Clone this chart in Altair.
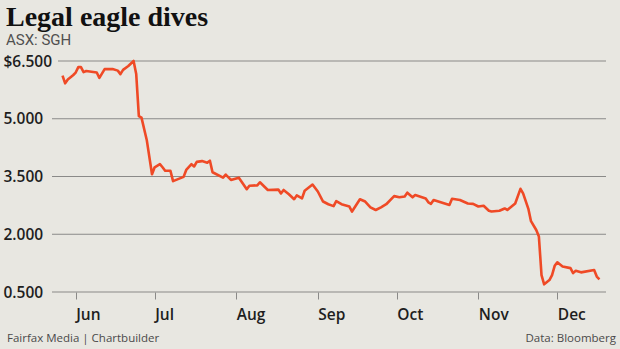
import altair as alt
import pandas as pd

# ---- data (SGH share price) ----
dates = [
    "2015-05-27", "2015-05-28", "2015-05-29", "2015-05-31", "2015-06-01", "2015-06-02",
    "2015-06-03", "2015-06-04", "2015-06-05", "2015-06-09", "2015-06-10", "2015-06-12",
    "2015-06-15", "2015-06-17", "2015-06-18", "2015-06-19", "2015-06-21", "2015-06-23",
    "2015-06-24", "2015-06-25", "2015-06-26", "2015-06-28", "2015-06-30",
    "2015-07-01", "2015-07-03", "2015-07-04", "2015-07-05", "2015-07-07", "2015-07-08",
    "2015-07-12", "2015-07-13", "2015-07-15", "2015-07-16", "2015-07-17", "2015-07-19",
    "2015-07-21", "2015-07-22", "2015-07-23", "2015-07-27", "2015-07-28", "2015-07-30",
    "2015-08-02", "2015-08-05", "2015-08-06", "2015-08-09", "2015-08-10", "2015-08-13",
    "2015-08-17", "2015-08-18", "2015-08-19", "2015-08-21", "2015-08-23", "2015-08-24",
    "2015-08-26", "2015-08-27", "2015-08-30",
    "2015-09-01", "2015-09-03", "2015-09-05", "2015-09-07", "2015-09-08", "2015-09-10",
    "2015-09-13", "2015-09-14", "2015-09-17", "2015-09-19", "2015-09-21", "2015-09-23",
    "2015-09-25", "2015-09-27", "2015-09-30",
    "2015-10-02", "2015-10-04", "2015-10-05", "2015-10-07", "2015-10-08", "2015-10-12",
    "2015-10-13", "2015-10-14", "2015-10-15", "2015-10-21", "2015-10-22", "2015-10-25",
    "2015-10-28", "2015-10-30",
    "2015-11-01", "2015-11-03", "2015-11-05", "2015-11-06", "2015-11-09", "2015-11-11",
    "2015-11-12", "2015-11-15", "2015-11-17", "2015-11-18", "2015-11-20", "2015-11-21",
    "2015-11-23", "2015-11-24", "2015-11-25", "2015-11-26", "2015-11-28", "2015-11-29",
    "2015-11-30",
    "2015-12-01", "2015-12-03", "2015-12-06", "2015-12-07", "2015-12-08", "2015-12-10",
    "2015-12-15", "2015-12-16", "2015-12-17",
]
prices = [
    6.12, 5.92, 6.02, 6.13, 6.20, 6.34,
    6.34, 6.21, 6.24, 6.20, 6.06, 6.29,
    6.29, 6.25, 6.16, 6.27, 6.37, 6.50,
    6.16, 5.07, 5.03, 4.45, 3.56,
    3.74, 3.82, 3.74, 3.65, 3.65, 3.38,
    3.49, 3.67, 3.82, 3.76, 3.88, 3.90,
    3.86, 3.91, 3.61, 3.47, 3.55, 3.41,
    3.47, 3.17, 3.26, 3.27, 3.35, 3.15,
    3.16, 3.06, 3.15, 3.04, 2.91, 3.01,
    2.93, 3.13, 3.29,
    3.11, 2.85, 2.78, 2.73, 2.86, 2.78,
    2.72, 2.59, 2.91, 2.85, 2.70, 2.63,
    2.70, 2.78, 2.99,
    2.96, 2.98, 3.08, 2.96, 3.02, 2.93,
    2.83, 2.79, 2.89, 2.76, 2.92, 2.89,
    2.80, 2.79,
    2.72, 2.74, 2.61, 2.59, 2.61, 2.67,
    2.63, 2.80, 3.18, 3.06, 2.66, 2.34,
    2.11, 1.94, 0.94, 0.70, 0.81, 0.94,
    1.18,
    1.27, 1.16, 1.12, 0.99, 1.05, 1.01,
    1.07, 0.90, 0.83,
]
y_ticks = [0.5, 2.0, 3.5, 5.0, 6.5]
month_starts = [6, 7, 8, 9, 10, 11, 12]

title_text = "Legal eagle dives"
subtitle_text = "ASX: SGH"
source_left = "Fairfax Media | Chartbuilder"
source_right = "Data: Bloomberg"

# ---- styling ----
BG = "#e8e7e1"
LINE = "#ef4a26"
GRID = "#8a8a88"
TEXT = "#1e1e1e"
W, H = 554, 231

df = pd.DataFrame({"date": dates, "price": prices})
grid_df = pd.DataFrame({"v": y_ticks})

x_scale = alt.Scale(
    type="utc",
    domain=[alt.DateTime(year=2015, month=5, date=23, utc=True),
            alt.DateTime(year=2015, month=12, date=19, hours=12, utc=True)],
)
y_scale = alt.Scale(domain=[0.5, 6.5], nice=False, zero=False)

x_axis = alt.Axis(
    values=[alt.DateTime(year=2015, month=m, date=1, utc=True) for m in month_starts],
    format="%b",
    title=None,
    grid=False,
    domain=False,
    ticks=True,
    tickSize=7,
    tickColor=GRID,
    tickWidth=1,
    labelAlign="left",
    labelPadding=8,
    labelFont="Open Sans",
    labelFontSize=15.5,
    labelFontWeight=600,
    labelColor=TEXT,
)
y_axis = alt.Axis(
    values=y_ticks,
    labelExpr="datum.value == 6.5 ? '$6.500' : format(datum.value, '.3f')",
    title=None,
    grid=False,
    domain=False,
    ticks=False,
    labelAlign="left",
    labelBaseline="middle",
    labelPadding=49,
    labelFont="Open Sans",
    labelFontSize=15.5,
    labelFontWeight=600,
    labelColor=TEXT,
)

rules_low = alt.Chart(grid_df).transform_filter("datum.v < 6").mark_rule(
    color=GRID, strokeWidth=1.2
).encode(
    y=alt.Y("v:Q", scale=y_scale, axis=y_axis),
    x=alt.value(0),
    x2=alt.value(W),
)
rules_top = alt.Chart(grid_df).transform_filter("datum.v > 6").mark_rule(
    color=GRID, strokeWidth=1.2
).encode(
    y=alt.Y("v:Q", scale=y_scale, axis=y_axis),
    x=alt.value(6),
    x2=alt.value(W),
)

line = alt.Chart(df).mark_line(color=LINE, strokeWidth=2.6, strokeJoin="round").encode(
    x=alt.X("date:T", scale=x_scale, axis=x_axis),
    y=alt.Y("price:Q", scale=y_scale, axis=y_axis),
)

foot_left = alt.Chart(pd.DataFrame({"t": [source_left]})).mark_text(
    align="left", baseline="alphabetic", font="Open Sans", fontSize=11.5, color="#4a4a4a"
).encode(text="t:N", x=alt.value(-45), y=alt.value(281))

foot_right = alt.Chart(pd.DataFrame({"t": [source_right]})).mark_text(
    align="right", baseline="alphabetic", font="Open Sans", fontSize=11.5, color="#4a4a4a"
).encode(text="t:N", x=alt.value(564), y=alt.value(281))

chart = alt.layer(rules_low, rules_top, line, foot_left, foot_right).properties(
    width=W,
    height=H,
    autosize=alt.AutoSizeParams(type="none"),
    padding={"left": 52, "top": 61, "right": 14, "bottom": 57},
    background=BG,
    title=alt.TitleParams(
        text=title_text,
        subtitle=subtitle_text,
        anchor="start",
        frame="group",
        dx=-46,
        offset=6,
        font="Liberation Serif",
        fontSize=28,
        fontWeight="bold",
        color="#111111",
        subtitleFont="Roboto",
        subtitleFontSize=15,
        subtitleColor="#505050",
        subtitlePadding=1,
    ),
).configure_view(stroke=None)

chart.save("out.html", embed_options={"renderer": "svg", "actions": False})
